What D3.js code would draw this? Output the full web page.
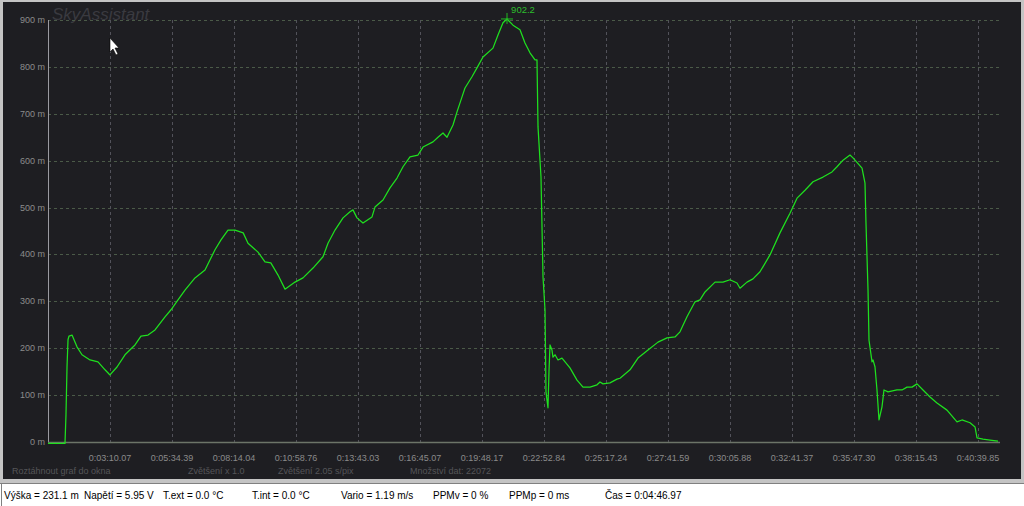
<!DOCTYPE html>
<html><head><meta charset="utf-8">
<script src="https://cdn.jsdelivr.net/npm/d3@7"></script>
<style>html,body{margin:0;padding:0;background:#fff;overflow:hidden}</style>
</head><body>
<svg id="c" width="1024" height="506"></svg>
<script>
// ---- data ----
const title = "SkyAssistant";
const totalSamples = 22072;
const altTicks = [0,100,200,300,400,500,600,700,800,900];
const timeTickSamples = [1437,2875,4312,5750,7187,8625,10062,11500,12937,14375,15812,17250,18687,20125,21562];
const timeTickLabels = ["0:03:10.07","0:05:34.39","0:08:14.04","0:10:58.76","0:13:43.03","0:16:45.07","0:19:48.17","0:22:52.84","0:25:17.24","0:27:41.59","0:30:05.88","0:32:41.37","0:35:47.30","0:38:15.43","0:40:39.85"];
const sampleIdx = [0,394,417,441,464,487,557,672,788,974,1159,1322,1437,1600,1785,2017,2156,2319,2481,2713,2852,3014,3176,3408,3640,3872,4011,4173,4336,4526,4637,4869,5031,5166,5333,5495,5727,5912,6144,6376,6492,6654,6840,7002,7071,7164,7303,7512,7581,7767,7929,8092,8231,8393,8578,8694,8926,9042,9158,9251,9390,9483,9599,9668,9830,9946,10085,10317,10433,10549,10642,10781,10943,11059,11175,11291,11337,11361,11430,11477,11523,11546,11569,11592,11615,11639,11685,11708,11755,11824,11917,12102,12265,12404,12566,12729,12798,12868,13030,13192,13262,13494,13679,13911,14143,14352,14537,14653,14815,15001,15116,15233,15465,15650,15812,15974,16044,16206,16345,16508,16739,16971,17203,17366,17551,17737,17968,18177,18293,18432,18594,18664,18873,18942,18965,19012,19035,19105,19128,19174,19220,19267,19336,19382,19475,19684,19800,19916,20032,20148,20287,20449,20611,20843,21075,21191,21377,21493,21539,21678,21840,22026];
const altitude = [-3,-3,58,160,218,226,228,203,186,175,171,154,143,160,186,207,226,228,239,267,282,303,324,350,367,410,431,452,452,446,424,405,384,382,356,326,341,350,371,395,424,452,478,491,495,478,467,480,501,516,542,563,587,608,612,629,640,650,659,650,676,704,736,755,779,798,821,840,868,894,902.2,889,879,851,830,815,815,672,565,352,282,107,90,73,150,207,196,181,186,175,179,158,132,117,117,122,128,124,126,134,136,154,179,196,213,222,224,235,267,299,303,320,341,341,346,339,328,341,348,363,399,446,488,520,537,555,565,576,587,601,612,606,584,552,467,324,217,171,175,160,111,47,75,111,107,111,111,117,117,124,111,96,83,68,43,47,41,32,9,6,4,2];
const peakValue = 902.2;
const peakSample = 10642;
const infoTexts = ["Roztáhnout graf do okna","Zvětšení x 1.0","Zvětšení 2.05 s/pix","Množství dat: 22072"];
const statusTexts = ["Výška = 231.1 m","Napětí = 5.95 V","T.ext = 0.0 °C","T.int = 0.0 °C","Vario = 1.19 m/s","PPMv = 0 %","PPMp = 0 ms","Čas = 0:04:46.97"];

// ---- layout ----
const svg = d3.select("#c");
const W = 1024, H = 506;
const pLeft = 48, pRight = 1000, pTop = 20, pBottom = 442;
const x = d3.scaleLinear().domain([0, totalSamples]).range([pLeft, pRight]);
const y = d3.scaleLinear().domain([0, 900]).range([pBottom, pTop]);
const font = "'Liberation Sans', Arial, sans-serif";

// frame
svg.append("rect").attr("x",0).attr("y",0).attr("width",W).attr("height",H).attr("fill","#c4c4c4");
svg.append("rect").attr("x",3).attr("y",2).attr("width",W-6).attr("height",477).attr("fill","#1e1e22");
svg.append("rect").attr("x",0).attr("y",483).attr("width",W).attr("height",23).attr("fill","#ffffff");
svg.append("line").attr("x1",0).attr("x2",W).attr("y1",483.5).attr("y2",483.5).attr("stroke","#808080");
svg.append("line").attr("x1",1.5).attr("x2",1.5).attr("y1",483).attr("y2",H).attr("stroke","#808080");

// title
svg.append("text").attr("x",52).attr("y",20).attr("font-family",font).attr("font-style","italic")
  .attr("font-size",17).attr("fill","#3a3a40").text(title);

// horizontal grid
const g = svg.append("g");
g.selectAll("line.h").data(altTicks.filter(d=>d>0)).join("line")
  .attr("x1",pLeft).attr("x2",pRight).attr("y1",d=>Math.round(y(d))+0.5).attr("y2",d=>Math.round(y(d))+0.5)
  .attr("stroke","#4b5a48").attr("stroke-dasharray","3,3");
// vertical grid
g.selectAll("line.v").data(timeTickSamples).join("line")
  .attr("x1",d=>Math.round(x(d))+0.5).attr("x2",d=>Math.round(x(d))+0.5).attr("y1",pTop).attr("y2",pBottom)
  .attr("stroke","#52525a").attr("stroke-dasharray","3,3");

// axes lines
svg.append("line").attr("x1",pLeft+0.5).attr("x2",pLeft+0.5).attr("y1",pTop).attr("y2",pBottom+2).attr("stroke","#9a9aa0");
svg.append("line").attr("x1",pLeft).attr("x2",pRight).attr("y1",pBottom+0.5).attr("y2",pBottom+0.5).attr("stroke","#6c7468").attr("stroke-width",1.5);

// y labels
svg.selectAll("text.yl").data(altTicks).join("text")
  .attr("x",pLeft-3).attr("y",d=>y(d)+3).attr("text-anchor","end")
  .attr("font-family",font).attr("font-size",9).attr("fill","#8c8c8c").text(d=>d+" m");
// x labels
svg.selectAll("text.xl").data(timeTickSamples).join("text")
  .attr("x",d=>x(d)).attr("y",461).attr("text-anchor","middle")
  .attr("font-family",font).attr("font-size",9).attr("fill","#8a8a8a").text((d,i)=>timeTickLabels[i]);

// info line
const infoX = [12,188,278,410];
svg.selectAll("text.info").data(infoTexts).join("text")
  .attr("x",(d,i)=>infoX[i]).attr("y",474).attr("font-family",font).attr("font-size",9)
  .attr("fill","#555558").text(d=>d);

// data line
const pts = sampleIdx.map((s,i)=>[s, altitude[i]]);
svg.append("path").datum(pts)
  .attr("d", d3.line().x(d=>x(d[0])).y(d=>y(d[1])))
  .attr("fill","none").attr("stroke","#1fe01f").attr("stroke-width",1.25).attr("stroke-linejoin","round");

// peak marker
const px = x(peakSample), py = y(peakValue);
svg.append("line").attr("x1",px-6).attr("x2",px+6).attr("y1",py).attr("y2",py).attr("stroke","#22b822");
svg.append("line").attr("x1",px).attr("x2",px).attr("y1",py-6).attr("y2",py+5).attr("stroke","#22b822");
svg.append("text").attr("x",px+16).attr("y",py-6).attr("text-anchor","middle")
  .attr("font-family",font).attr("font-size",9.5).attr("fill","#2cbf2c").text(peakValue.toFixed(1));

// mouse cursor
svg.append("path").attr("d","M110,38 L110,52 L113,49 L116,55 L118,54 L115,48 L119,48 Z")
  .attr("fill","#ffffff").attr("stroke","#000").attr("stroke-width",0.6);

// status bar
const statusX = [4,84,163,252,341,433,509,605];
svg.selectAll("text.st").data(statusTexts).join("text")
  .attr("x",(d,i)=>statusX[i]).attr("y",499).attr("font-family",font).attr("font-size",10)
  .attr("fill","#000").text(d=>d);
</script>
</body></html>
